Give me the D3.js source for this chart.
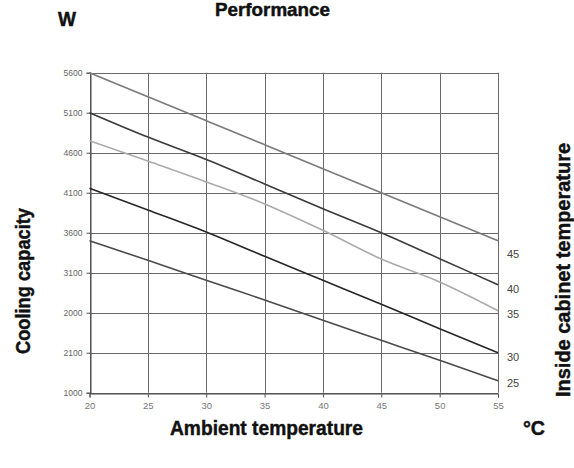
<!DOCTYPE html>
<html><head><meta charset="utf-8">
<script src="https://cdn.jsdelivr.net/npm/d3@7"></script>
<style>
body{margin:0;background:#fff;}
svg{display:block;}
.bold{font-family:"Liberation Sans","Arial",sans-serif;font-weight:bold;fill:#111;stroke:#111;stroke-width:0.45;}
.tick text{font-family:"Liberation Sans","DejaVu Sans",sans-serif;}
</style></head>
<body>
<svg id="c" width="574" height="468"></svg>
<script>
const temps = [20, 25, 30, 35, 40, 45, 50, 55];
const seriesNames = ["45", "40", "35", "30", "25"];
const s45 = [5600, 5300, 5000, 4700, 4400, 4100, 3800, 3500];
const s40 = [5100, 4795, 4515, 4210, 3900, 3600, 3275, 2950];
const s35 = [4750, 4495, 4235, 3960, 3630, 3270, 2985, 2625];
const s30 = [4155, 3885, 3610, 3305, 3005, 2705, 2400, 2100];
const s25 = [3500, 3255, 3005, 2760, 2505, 2255, 2005, 1750];
const seriesColors = ["#7a7a7a", "#3a3a3a", "#ababab", "#262626", "#4a4a4a"];
const yTickValues = [1600, 2100, 2600, 3100, 3600, 4100, 4600, 5100, 5600];
const yTickLabels = ["1000", "2100", "2000", "3100", "3600", "4100", "4600", "5100", "5600"];
const xTickLabels = ["20", "25", "30", "35", "40", "45", "50", "55"];

const allSeries = [s45, s40, s35, s30, s25];
const svg = d3.select("#c");
const x = d3.scaleLinear().domain([20, 55]).range([89.5, 498]);
const y = d3.scaleLinear().domain([1600, 5600]).range([392.7, 72.7]);

// grid
const g = svg.append("g");
g.selectAll(".hg").data(yTickValues).join("line")
  .attr("x1", x(20)).attr("x2", x(55))
  .attr("y1", d => Math.round(y(d)) + 0.5).attr("y2", d => Math.round(y(d)) + 0.5)
  .attr("stroke", "#6a6a6a").attr("stroke-width", 1);
g.selectAll(".vg").data(temps).join("line")
  .attr("x1", d => Math.round(x(d)) + 0.5).attr("x2", d => Math.round(x(d)) + 0.5)
  .attr("y1", y(5600)).attr("y2", y(1600))
  .attr("stroke", "#6a6a6a").attr("stroke-width", 1);

// axes
const yAxis = d3.axisLeft(y).tickValues(yTickValues).tickSize(4).tickPadding(4)
  .tickFormat((d, i) => yTickLabels[i]);
const ya = svg.append("g").attr("transform", `translate(${Math.round(x(20)) + 0.5},0)`).call(yAxis);
ya.select(".domain").attr("stroke", "#444");
ya.selectAll(".tick line").attr("stroke", "#555");
ya.selectAll(".tick text").attr("fill", "#666").attr("font-size", 8.5);

const xAxis = d3.axisBottom(x).tickValues(temps).tickSize(4).tickPadding(5)
  .tickFormat((d, i) => xTickLabels[i]);
const xa = svg.append("g").attr("transform", `translate(0,${Math.round(y(1600)) + 0.5})`).call(xAxis);
xa.select(".domain").attr("stroke", "#444");
xa.selectAll(".tick line").attr("stroke", "#555");
xa.selectAll(".tick text").attr("fill", "#777").attr("font-size", 9.5);

// lines
const line = d3.line().curve(d3.curveMonotoneX).x((d, i) => x(temps[i])).y(d => y(d));
svg.selectAll(".series").data(allSeries).join("path")
  .attr("d", d => line(d)).attr("fill", "none")
  .attr("stroke", (d, i) => seriesColors[i]).attr("stroke-width", 1.6);

// right labels
const labelOffsets = [13, 4, 3, 4, 2];
svg.selectAll(".rl").data(allSeries).join("text")
  .attr("x", 507).attr("y", (d, i) => y(d[d.length - 1]) + labelOffsets[i] + 4)
  .attr("font-family", "Liberation Sans, DejaVu Sans, sans-serif")
  .attr("font-size", 11).attr("fill", "#444")
  .text((d, i) => seriesNames[i]);

// titles (condensed heavy look via textLength)
function title(txt, size, len, transform, anchor) {
  return svg.append("text").attr("class", "bold")
    .attr("transform", transform)
    .attr("text-anchor", anchor || "middle").attr("font-size", size)
    .attr("textLength", len).attr("lengthAdjust", "spacingAndGlyphs")
    .text(txt);
}
title("Performance", 18, 115, "translate(272.5,16)");
title("W", 20, 18, "translate(67,26)");
title("Ambient temperature", 21, 193, "translate(266.5,435)");
title("°C", 21, 22, "translate(534,435)");
title("Cooling capacity", 21, 146, "translate(30,281) rotate(-90)");
title("Inside cabinet temperature", 21, 254, "translate(570,270) rotate(-90)");
</script>
</body></html>
